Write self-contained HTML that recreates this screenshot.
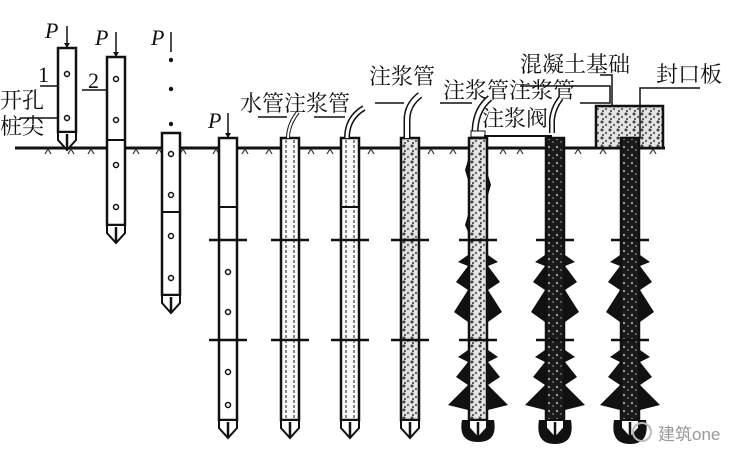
<!DOCTYPE html>
<html><head><meta charset="utf-8"><style>
html,body{margin:0;padding:0;background:#fff;}
svg{display:block;}
text{font-family:"Liberation Serif","Noto Serif CJK SC",serif;fill:#111;}
</style></head><body>
<svg width="749" height="463" viewBox="0 0 749 463" xmlns="http://www.w3.org/2000/svg">
<defs>
<pattern id="spk" width="8" height="8" patternUnits="userSpaceOnUse">
<rect width="8" height="8" fill="#e4e4e4"/>
<circle cx="2" cy="2" r="1.5" fill="#444"/><circle cx="6" cy="5" r="1.2" fill="#666"/><circle cx="3" cy="7" r="1" fill="#333"/>
</pattern>
<pattern id="dk" width="8" height="8" patternUnits="userSpaceOnUse">
<rect width="8" height="8" fill="#1a1a1a"/>
<circle cx="2" cy="3" r="1.1" fill="#aaa"/><circle cx="6" cy="6" r="0.9" fill="#888"/>
</pattern>
<g id="tip"><path d="M-9 0 L9 0 L9 8 L0 18 L-9 8 Z" fill="#fff" stroke="#111" stroke-width="2"/><line x1="0" y1="2" x2="0" y2="18" stroke="#111" stroke-width="2.5"/></g>
<g id="joints">
<line x1="-19" y1="240" x2="19" y2="240" stroke="#111" stroke-width="2.5"/>
<line x1="-19" y1="340" x2="19" y2="340" stroke="#111" stroke-width="2.5"/>
</g>
<g id="bulge">
<path d="M-10 255 L-20 262 L-10 266 L-22 282 L-10 290 L-24 312 L-10 322 L-10 250 Z M10 255 L20 262 L10 266 L22 282 L10 290 L24 312 L10 322 Z" fill="#111"/>
<path d="M-10 350 L-20 357 L-10 362 L-22 377 L-10 385 L-30 405 L-10 410 Z M10 350 L20 357 L10 362 L22 377 L10 385 L30 405 L10 410 Z" fill="#111"/>
</g>
</defs>

<line x1="15" y1="148" x2="665" y2="148" stroke="#111" stroke-width="3"/>
<g stroke="#333" stroke-width="1.2" fill="none">
<path d="M45 154l3-5 3 5M68 154l3-5 3 5M88 154l3-5 3 5M133 154l3-5 3 5M156 154l3-5 3 5M180 154l3-5 3 5M213 154l3-5 3 5M242 154l3-5 3 5M266 154l3-5 3 5M308 154l3-5 3 5M327 154l3-5 3 5M368 154l3-5 3 5M428 154l3-5 3 5M450 154l3-5 3 5M500 154l3-5 3 5M517 154l3-5 3 5M575 154l3-5 3 5M600 154l3-5 3 5M650 154l3-5 3 5"/>
</g>

<!-- pile 1 -->
<rect x="58" y="48" width="18" height="84" fill="#fff" stroke="#111" stroke-width="2.5"/>
<circle cx="67" cy="74" r="2.5" fill="none" stroke="#111" stroke-width="1.5"/><circle cx="67" cy="118" r="2.5" fill="none" stroke="#111" stroke-width="1.5"/>
<use href="#tip" x="67" y="132"/>
<line x1="67" y1="26" x2="67" y2="47" stroke="#111" stroke-width="1.5"/><path d="M64 43 L70 43 L67 48Z" fill="#111"/>
<text x="45" y="38" font-size="22" font-style="italic">P</text>
<text x="38" y="82" font-size="22">1</text>
<line x1="40" y1="86" x2="58" y2="86" stroke="#111" stroke-width="1.5"/>
<text x="0" y="108" font-size="22">开孔</text>
<text x="0" y="134" font-size="22">桩尖</text>
<line x1="20" y1="118" x2="58" y2="118" stroke="#111" stroke-width="1.5"/>

<!-- pile 2 -->
<rect x="107" y="57" width="18" height="168" fill="#fff" stroke="#111" stroke-width="2.5"/>
<line x1="107" y1="140" x2="125" y2="140" stroke="#111" stroke-width="2"/>
<circle cx="116" cy="79" r="2.5" fill="none" stroke="#111" stroke-width="1.5"/><circle cx="116" cy="120" r="2.5" fill="none" stroke="#111" stroke-width="1.5"/><circle cx="116" cy="165" r="2.5" fill="none" stroke="#111" stroke-width="1.5"/><circle cx="116" cy="207" r="2.5" fill="none" stroke="#111" stroke-width="1.5"/>
<use href="#tip" x="116" y="225"/>
<line x1="116" y1="32" x2="116" y2="56" stroke="#111" stroke-width="1.5"/><path d="M113 52 L119 52 L116 57Z" fill="#111"/>
<text x="95" y="45" font-size="22" font-style="italic">P</text>
<text x="88" y="88" font-size="22">2</text>
<line x1="82" y1="90" x2="107" y2="90" stroke="#111" stroke-width="1.5"/>

<!-- pile 3 -->
<text x="151" y="45" font-size="22" font-style="italic">P</text>
<line x1="171" y1="32" x2="171" y2="52" stroke="#111" stroke-width="1.5"/>
<circle cx="171" cy="60" r="2.2" fill="#111"/><circle cx="171" cy="89" r="2.2" fill="#111"/><circle cx="171" cy="124" r="2.2" fill="#111"/>
<rect x="162" y="133" width="18" height="162" fill="#fff" stroke="#111" stroke-width="2.5"/>
<line x1="162" y1="212" x2="180" y2="212" stroke="#111" stroke-width="2"/>
<circle cx="171" cy="154" r="2.5" fill="none" stroke="#111" stroke-width="1.5"/><circle cx="171" cy="195" r="2.5" fill="none" stroke="#111" stroke-width="1.5"/><circle cx="171" cy="236" r="2.5" fill="none" stroke="#111" stroke-width="1.5"/><circle cx="171" cy="278" r="2.5" fill="none" stroke="#111" stroke-width="1.5"/>
<use href="#tip" x="171" y="295"/>

<!-- pile 4 -->
<g transform="translate(228,0)">
<rect x="-9" y="138" width="18" height="282" fill="#fff" stroke="#111" stroke-width="2.5"/>
<line x1="-9" y1="207" x2="9" y2="207" stroke="#111" stroke-width="2"/>
<use href="#joints"/>
<circle cx="0" cy="272" r="2.5" fill="none" stroke="#111" stroke-width="1.5"/><circle cx="0" cy="312" r="2.5" fill="none" stroke="#111" stroke-width="1.5"/><circle cx="0" cy="372" r="2.5" fill="none" stroke="#111" stroke-width="1.5"/><circle cx="0" cy="405" r="2.5" fill="none" stroke="#111" stroke-width="1.5"/>
<use href="#tip" x="0" y="420"/>
<line x1="0" y1="113" x2="0" y2="137" stroke="#111" stroke-width="1.5"/><path d="M-3 133 L3 133 L0 138Z" fill="#111"/>
</g>
<text x="208" y="128" font-size="22" font-style="italic">P</text>

<!-- pile 5 -->
<g transform="translate(290,0)">
<rect x="-9" y="138" width="18" height="282" fill="#fff" stroke="#111" stroke-width="2.5"/>
<line x1="-4" y1="140" x2="-4" y2="418" stroke="#111" stroke-dasharray="3 2"/><line x1="4" y1="140" x2="4" y2="418" stroke="#111" stroke-dasharray="3 2"/>
<use href="#joints"/>
<use href="#tip" x="0" y="420"/>
<path d="M-2 138 Q-2 125 8 112" fill="none" stroke="#111" stroke-width="4"/><path d="M-2 138 Q-2 125 8 112" fill="none" stroke="#fff" stroke-width="2"/>
</g>
<line x1="258" y1="117" x2="287" y2="117" stroke="#111" stroke-width="1.5"/>
<text x="240" y="111" font-size="22">水管注浆管</text>

<!-- pile 6 -->
<g transform="translate(350,0)">
<rect x="-9" y="138" width="18" height="282" fill="#fff" stroke="#111" stroke-width="2.5"/>
<line x1="-4" y1="140" x2="-4" y2="418" stroke="#111" stroke-dasharray="3 2"/><line x1="4" y1="140" x2="4" y2="418" stroke="#111" stroke-dasharray="3 2"/>
<line x1="-9" y1="207" x2="9" y2="207" stroke="#111" stroke-width="2"/>
<use href="#joints"/>
<use href="#tip" x="0" y="420"/>
<path d="M-3 138 Q-3 118 14 108" fill="none" stroke="#111" stroke-width="6"/><path d="M-3 138 Q-3 118 14 108" fill="none" stroke="#fff" stroke-width="3"/>
</g>
<line x1="314" y1="117" x2="345" y2="117" stroke="#111" stroke-width="1.5"/>

<!-- pile 7 grout -->
<g transform="translate(410,0)">
<rect x="-9" y="138" width="18" height="282" fill="url(#spk)" stroke="#111" stroke-width="2.5"/>
<use href="#joints"/>
<use href="#tip" x="0" y="420"/>
<path d="M-3 138 L-3 120 Q-3 105 10 95" fill="none" stroke="#111" stroke-width="7"/><path d="M-3 138 L-3 120 Q-3 105 10 95" fill="none" stroke="#fff" stroke-width="4"/>
</g>
<line x1="375" y1="103" x2="404" y2="103" stroke="#111" stroke-width="1.5"/>
<text x="369" y="84" font-size="22">注浆管</text>

<!-- pile 8 -->
<g transform="translate(478,0)">
<use href="#bulge"/>
<path d="M-10 160 L-13 170 L-10 180 Z M10 175 L13 185 L10 195 Z M-10 215 L-13 225 L-10 232 Z" fill="#111"/>
<rect x="-9" y="138" width="18" height="282" fill="url(#spk)" stroke="#111" stroke-width="2.5"/>
<use href="#joints"/>
<path d="M-16 420 Q-20 442 0 442 Q20 442 16 420 Z" fill="#111"/>
<use href="#tip" x="0" y="420"/>
<path d="M-3 133 Q-3 110 12 98" fill="none" stroke="#111" stroke-width="7"/><path d="M-3 133 Q-3 110 12 98" fill="none" stroke="#fff" stroke-width="4"/>
<rect x="-7" y="131" width="14" height="6" fill="#fff" stroke="#111"/>
</g>
<line x1="440" y1="103" x2="472" y2="103" stroke="#111" stroke-width="1.5"/>
<text x="443" y="98" font-size="22">注浆管注浆管</text>
<text x="482" y="126" font-size="22">注浆阀</text>
<line x1="484" y1="136" x2="552" y2="136" stroke="#111" stroke-width="2"/>

<!-- pile 9 -->
<g transform="translate(555,0)">
<use href="#bulge"/>
<rect x="-9" y="138" width="18" height="282" fill="url(#dk)" stroke="#111" stroke-width="2.5"/>
<use href="#joints"/>
<path d="M-16 420 Q-20 444 0 444 Q20 444 16 420 Z" fill="#111"/>
<use href="#tip" x="0" y="420"/>
<path d="M-3 133 L-3 120 Q-2 108 6 98" fill="none" stroke="#111" stroke-width="6"/><path d="M-3 133 L-3 120 Q-2 108 6 98" fill="none" stroke="#fff" stroke-width="3"/>
</g>
<polyline points="580,103 610,103 610,86 520,86" fill="none" stroke="#111" stroke-width="1.5"/>

<!-- foundation -->
<rect x="596" y="106" width="67" height="42" fill="url(#spk)" stroke="#111" stroke-width="2.5"/>
<text x="520" y="72" font-size="22">混凝土基础</text>
<polyline points="600,75 612,75 612,106" fill="none" stroke="#111" stroke-width="1.5"/>
<text x="656" y="82" font-size="22">封口板</text>
<polyline points="700,88 640,88 640,138" fill="none" stroke="#111" stroke-width="1.5"/>

<!-- pile 10 -->
<g transform="translate(630,0)">
<use href="#bulge"/>
<rect x="-9" y="138" width="18" height="282" fill="url(#dk)" stroke="#111" stroke-width="2.5"/>
<use href="#joints"/>
<path d="M-16 420 Q-20 444 0 444 Q20 444 16 420 Z" fill="#111"/>
<use href="#tip" x="0" y="420"/>
</g>

<circle cx="642" cy="432" r="9" fill="none" stroke="#bbb" stroke-width="2"/>
<text x="658" y="440" font-size="17" style="font-family:'Liberation Sans','Noto Sans CJK SC',sans-serif;fill:#999">建筑one</text>
</svg>
</body></html>
